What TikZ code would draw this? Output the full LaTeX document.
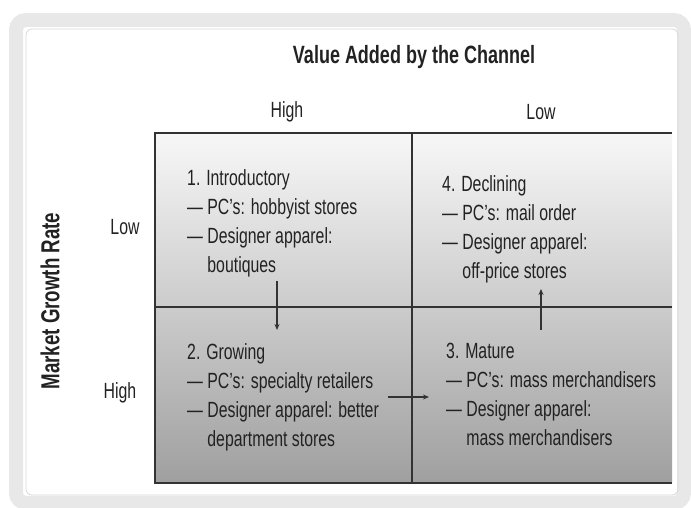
\documentclass[tikz,border=0pt]{standalone}
\usepackage{fontspec}
\setmainfont{Liberation Sans}[FakeStretch=0.72]
\usetikzlibrary{arrows.meta}
\definecolor{ink}{HTML}{222222}
\definecolor{gridline}{HTML}{333333}
\begin{document}
\begin{tikzpicture}[x=1pt,y=1pt,
  celltext/.style={anchor=north west,inner sep=0pt,align=left,text=ink,
    font=\fontsize{22}{29}\selectfont},
  axislabel/.style={text=ink,inner sep=0pt,font=\fontsize{22}{24}\selectfont},
  flow/.style={draw=gridline,line width=1.2pt,-{Stealth[length=6pt,width=5pt]}},
  gridrule/.style={draw=gridline,line width=1.4pt}]
\useasboundingbox (0,0) rectangle (691,508);
\fill[white] (0,0) rectangle (691,508);
% outer frame
\draw[gray!18,line width=14pt,rounded corners=10pt] (16,5) rectangle (684,488);
\draw[gray!30,line width=0.8pt,rounded corners=6pt] (26,13) rectangle (678,479);
% matrix area
\shade[top color=gray!6,bottom color=gray!75] (155,25) rectangle (672,375);
\coordinate (tl) at (155,375);
\coordinate (tm) at (412,375);
\coordinate (tr) at (672,375);
\coordinate (ml) at (155,201);
\coordinate (mr) at (672,201);
\coordinate (bl) at (155,25);
\coordinate (bm) at (412,25);
\coordinate (br) at (672,25);
\draw[gridrule] (tr) -- (tl) -- (bl) -- (br);
\draw[gridrule] (tm) -- (bm);
\draw[gridrule] (ml) -- (mr);
% labels
\node[axislabel,font=\bfseries\fontsize{25}{27}\selectfont] (title) at (414,451) {Value Added by the Channel};
\node[axislabel] (colhigh) at (287,396) {High};
\node[axislabel] (collow) at (541,396) {Low};
\node[axislabel] (rowlow) at (125,281) {Low};
\node[axislabel] (rowhigh) at (120,115) {High};
\node[axislabel,font=\bfseries\fontsize{26}{28}\selectfont,rotate=90] (rowtitle) at (50,207) {Market Growth Rate};
% cells
\node[celltext] (c1) at (187,339) {1. Introductory\\
--- PC's: hobbyist stores\\
--- Designer apparel:\\
\phantom{--- }boutiques};
\node[celltext] (c4) at (442,333) {4. Declining\\
--- PC's: mail order\\
--- Designer apparel:\\
\phantom{--- }off-price stores};
\node[celltext] (c2) at (187,165) {2. Growing\\
--- PC's: specialty retailers\\
--- Designer apparel: better\\
\phantom{--- }department stores};
\node[celltext] (c3) at (446,165) {3. Mature\\
--- PC's: mass merchandisers\\
--- Designer apparel:\\
\phantom{--- }mass merchandisers};
% arrows
\coordinate (a1s) at (277,227);
\coordinate (a1e) at (277,178);
\coordinate (a2s) at (388,111);
\coordinate (a2e) at (429,111);
\coordinate (a3s) at (541,178);
\coordinate (a3e) at (541,219);
\draw[flow] (a1s) -- (a1e);
\draw[flow] (a2s) -- (a2e);
\draw[flow] (a3s) -- (a3e);
\end{tikzpicture}
\end{document}
